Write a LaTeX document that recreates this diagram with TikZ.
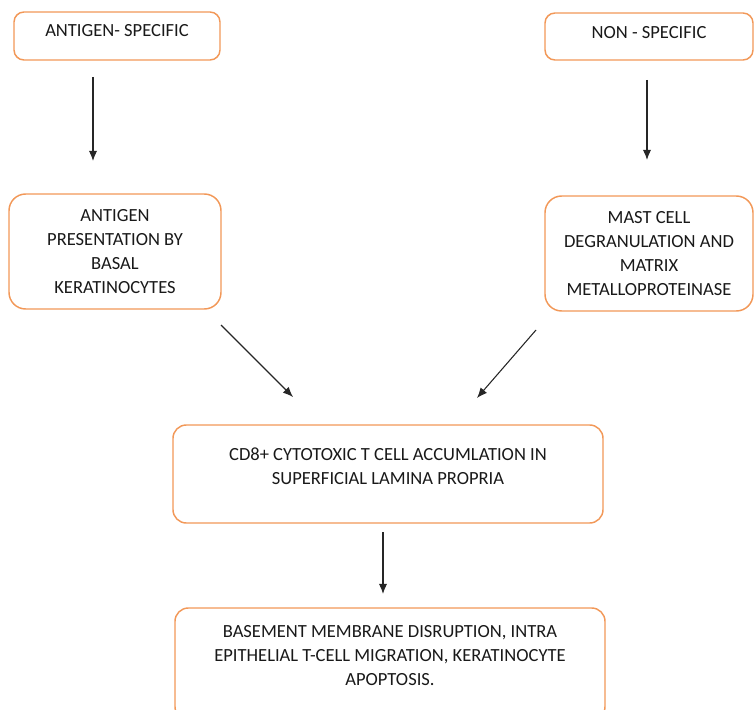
\documentclass[tikz,border=0pt]{standalone}
\usepackage{fontspec}
\setmainfont{Carlito}
\usepackage{xcolor}
\usepackage{tikz}
\usetikzlibrary{arrows.meta}

\definecolor{boxorange}{RGB}{242,152,88}

\begin{document}
\begin{tikzpicture}[
        x=0.75pt, y=-0.75pt,
        box/.style={draw=boxorange, line width=1.1pt, rounded corners=10pt, fill=white, align=center, text=black!90, font=\fontsize{13.9}{18}\selectfont},
        flow/.style={-{Latex[length=2.7mm, width=2.2mm]}, line width=0.8pt, black!85}
    ]
        \useasboundingbox (0,0) rectangle (754,710);
        \clip (0,0) rectangle (754,710);

        \node[box, rounded corners=7.5pt, minimum width=154.5pt, minimum height=36pt, text depth=9pt] (agspec) at (117,36) {ANTIGEN- SPECIFIC};
        \node[box, rounded corners=7.5pt, minimum width=156pt, minimum height=35.25pt, text depth=6.75pt] (nonspec) at (649,36.5) {NON - SPECIFIC};
        \node[box, rounded corners=12.5pt, minimum width=159pt, minimum height=86.25pt] (agpres) at (115,251.5) {ANTIGEN\\PRESENTATION BY\\BASAL\\KERATINOCYTES};
        \node[box, rounded corners=12.5pt, minimum width=156pt, minimum height=86.25pt] (mast) at (649,253.5) {MAST CELL\\DEGRANULATION AND\\MATRIX\\METALLOPROTEINASE};
        \node[box, minimum width=322.5pt, minimum height=73.5pt, text depth=11.25pt] (cdeight) at (388,474) {CD8+ CYTOTOXIC T CELL ACCUMLATION IN\\SUPERFICIAL LAMINA PROPRIA};
        \node[box, minimum width=322.5pt, minimum height=84pt, text depth=13.5pt] (basement) at (390,664) {BASEMENT MEMBRANE DISRUPTION, INTRA\\EPITHELIAL T-CELL MIGRATION, KERATINOCYTE\\APOPTOSIS.};

        % arrow ends sit clear of the boxes
        \coordinate (agspec-out) at (93,77);
        \coordinate (agpres-in) at (93,161);
        \coordinate (nonspec-out) at (647,80);
        \coordinate (mast-in) at (647,160);
        \coordinate (agpres-out) at (221,325);
        \coordinate (cdeight-inl) at (293,397);
        \coordinate (mast-out) at (536,330);
        \coordinate (cdeight-inr) at (477,398);
        \coordinate (cdeight-out) at (383,532);
        \coordinate (basement-in) at (383,594);

        \draw[flow] (agspec-out) -- (agpres-in);
        \draw[flow] (nonspec-out) -- (mast-in);
        \draw[flow] (agpres-out) -- (cdeight-inl);
        \draw[flow] (mast-out) -- (cdeight-inr);
        \draw[flow] (cdeight-out) -- (basement-in);
    \end{tikzpicture}
\end{document}
